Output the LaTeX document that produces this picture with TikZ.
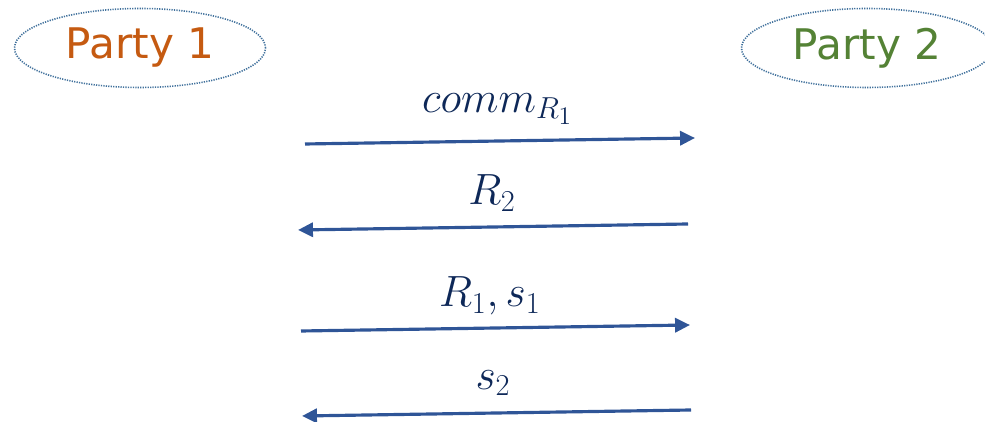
\documentclass[tikz,border=0pt]{standalone}
\usepackage{amsmath,amssymb}
\usepackage{fontspec}
\usepackage{tikz}
\usetikzlibrary{arrows.meta,positioning,shapes.geometric}
\newfontfamily\partyfont{DejaVu Sans}
\definecolor{pone}{HTML}{C55A11}
\definecolor{ptwo}{HTML}{548235}
\definecolor{rim}{HTML}{41719C}
\definecolor{msg}{HTML}{2F5597}
\definecolor{lbl}{HTML}{0E2858}
\begin{document}
\begin{tikzpicture}[
  party/.style={ellipse, draw=rim, line width=0.9pt, dash pattern=on 0.7pt off 0.7pt, minimum width=5.02cm, minimum height=1.58cm, inner sep=0pt, font=\partyfont\fontsize{24}{28}\selectfont},
  arr/.style={-{Triangle[length=8.5pt,width=8pt]}, line width=1.8pt, msg},
  lab/.style={text=lbl, font=\fontsize{27}{30}\selectfont, inner sep=1pt},
  ]
\useasboundingbox (0,0) rectangle (19.7,8.44);
% the two parties
\node[party, text=pone] (P1) at (2.8,7.48) {Party 1};
\node[party, text=ptwo] (P2) at (17.34,7.48) {Party 2};
% end points of the messages
\coordinate (a1) at (6.10,5.56);  \coordinate (b1) at (13.90,5.68);
\coordinate (b2) at (13.76,3.96); \coordinate (a2) at (5.96,3.84);
\coordinate (a3) at (6.02,1.82);  \coordinate (b3) at (13.80,1.94);
\coordinate (b4) at (13.82,0.24); \coordinate (a4) at (6.04,0.12);
% messages
\draw[arr] (a1) -- (b1);
\draw[arr] (b2) -- (a2);
\draw[arr] (a3) -- (b3);
\draw[arr] (b4) -- (a4);
% labels
\node[lab] (m1) at (9.95,6.26) {$comm_{R_1}$};
\node[lab] (m2) at (9.84,4.58) {$R_2$};
\node[lab] (m3) at (9.8,2.52) {$R_1, s_1$};
\node[lab] (m4) at (9.86,0.78) {$s_2$};
\end{tikzpicture}
\end{document}
